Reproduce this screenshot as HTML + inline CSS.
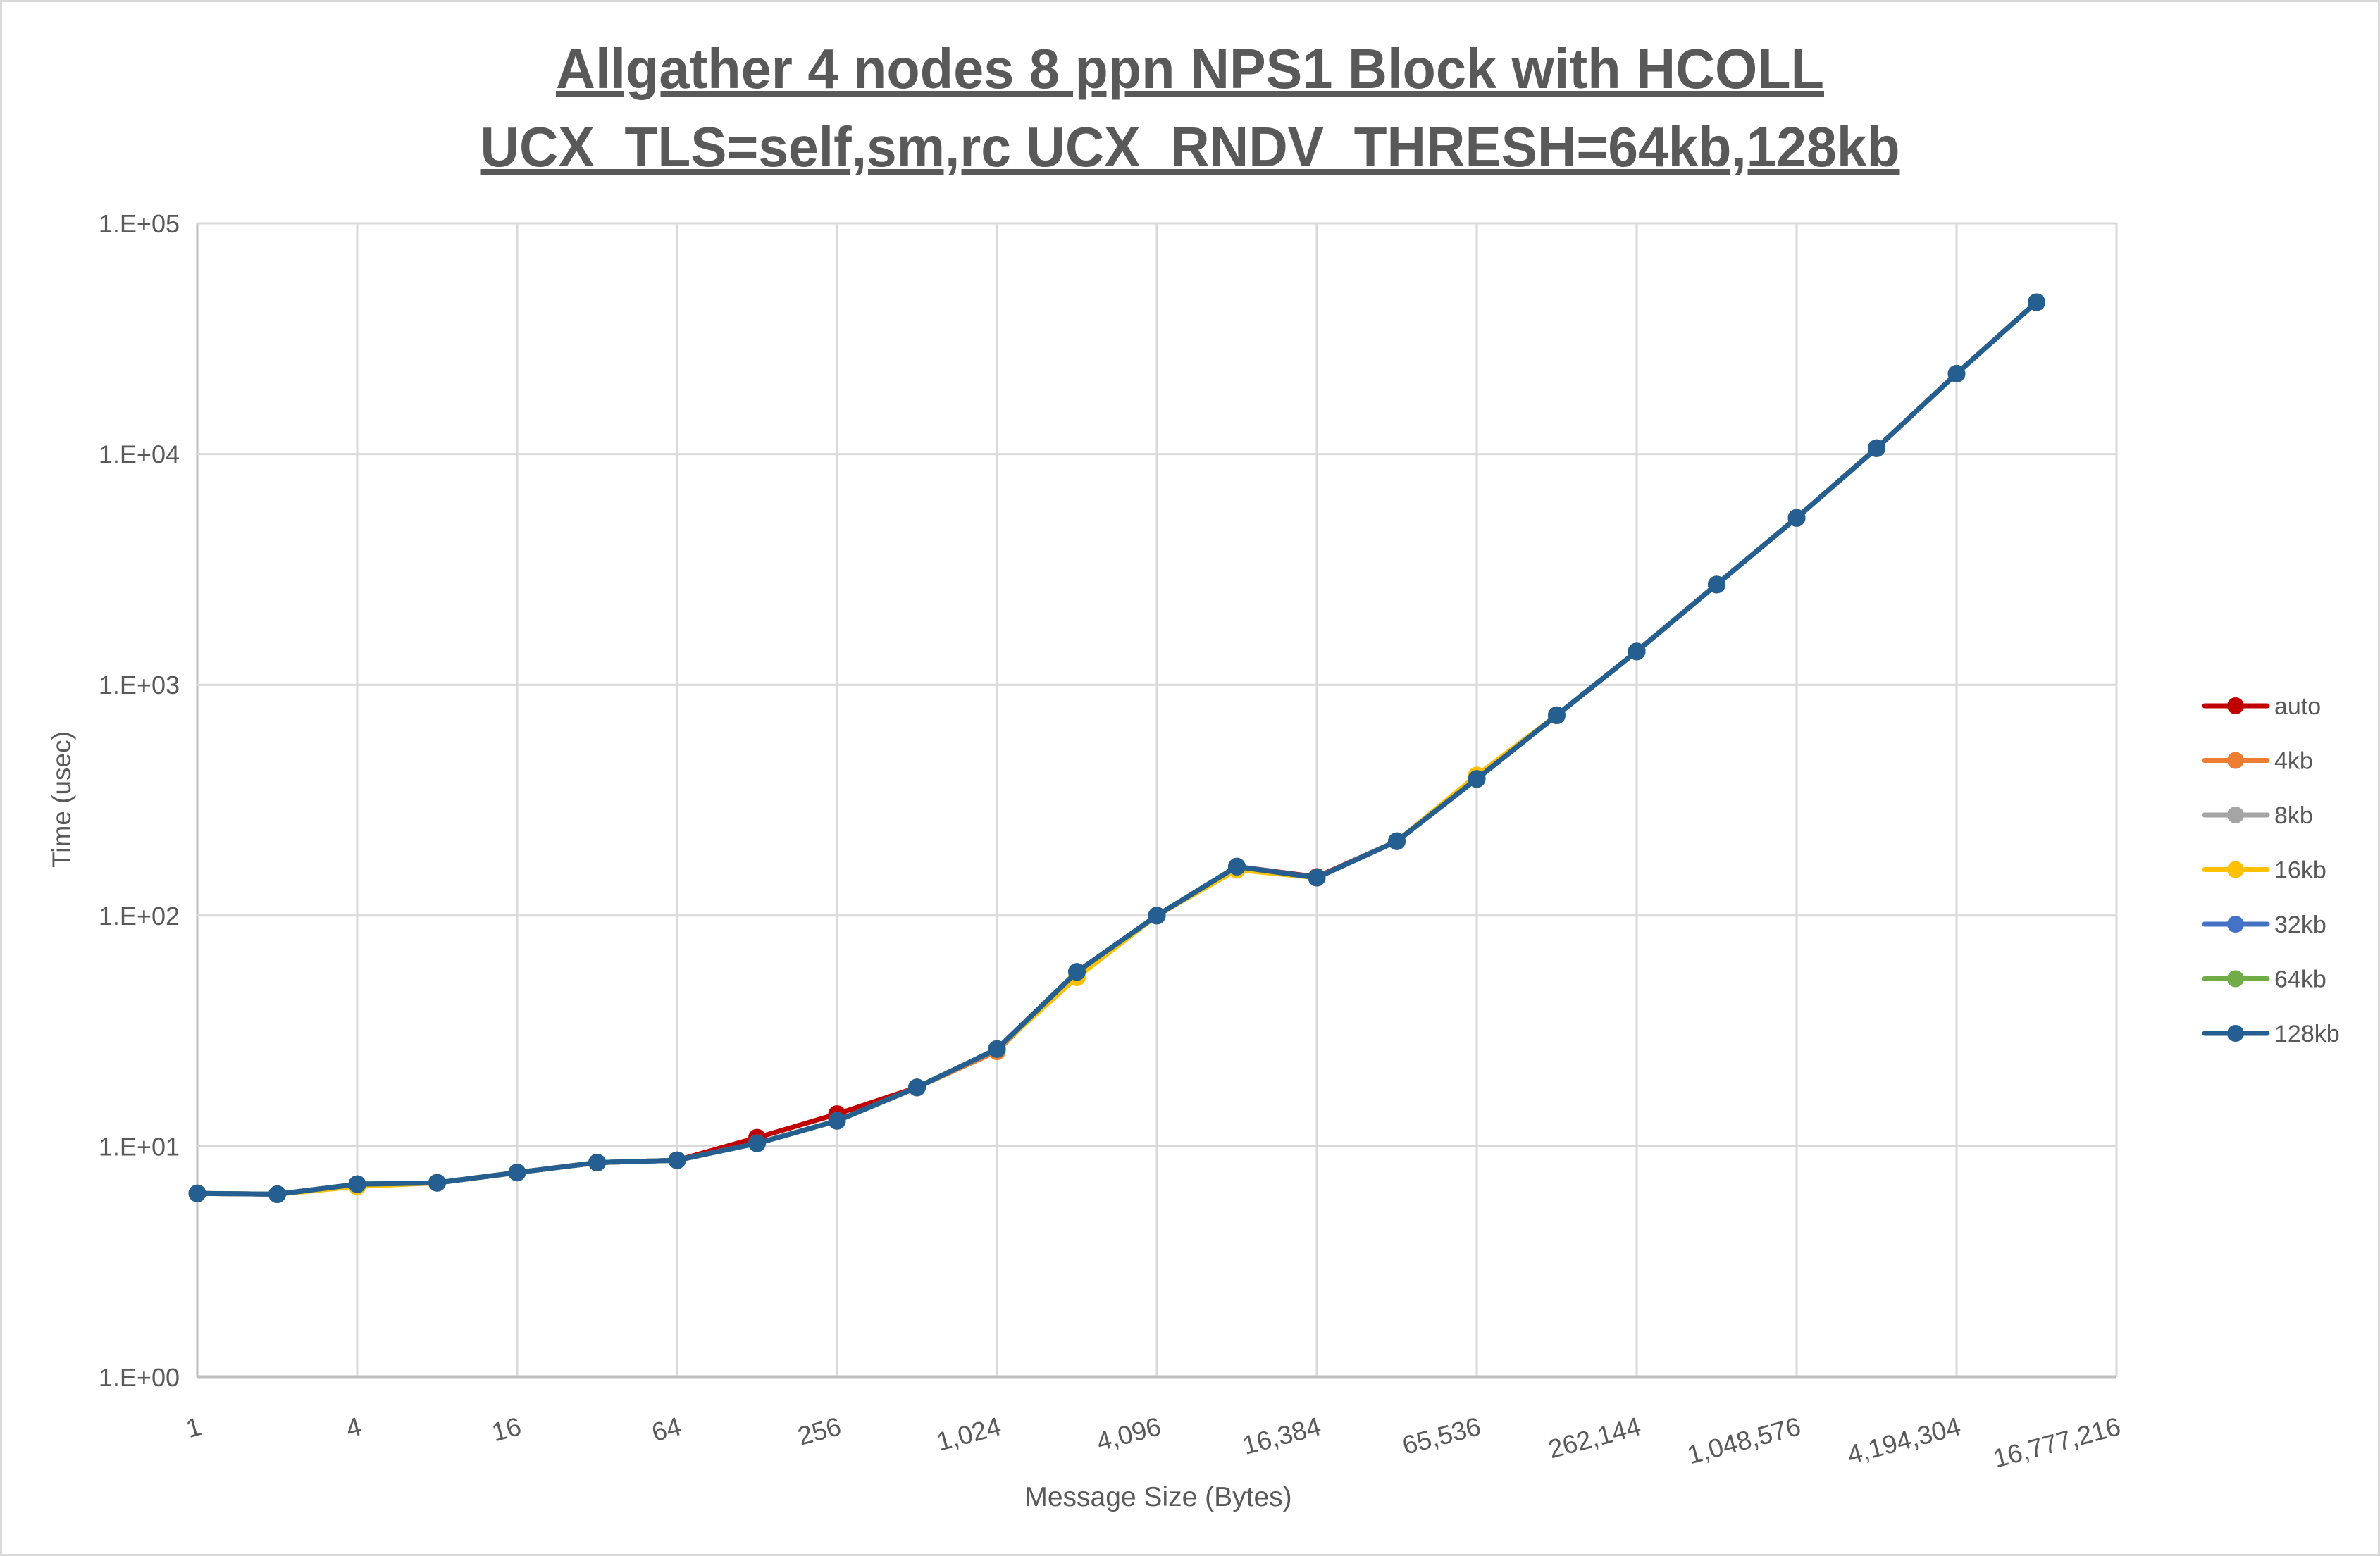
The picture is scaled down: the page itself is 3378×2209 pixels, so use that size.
<!DOCTYPE html>
<html><head><meta charset="utf-8"><style>
html,body{margin:0;padding:0;background:#fff}
svg{display:block}
text{font-family:"Liberation Sans",sans-serif;fill:#595959}
</style></head><body>
<svg id="c" width="3378" height="2209" viewBox="0 0 3378 2209" xmlns="http://www.w3.org/2000/svg">
<rect x="1.5" y="1.5" width="3375" height="2206" fill="#fff" stroke="#d9d9d9" stroke-width="3"/>
<text x="1689" y="125" text-anchor="middle" font-size="80" font-weight="bold" text-decoration="underline" textLength="1800" lengthAdjust="spacingAndGlyphs">Allgather 4 nodes 8 ppn NPS1 Block with HCOLL</text>
<text x="1689" y="236" text-anchor="middle" font-size="80" font-weight="bold" text-decoration="underline" textLength="2015" lengthAdjust="spacingAndGlyphs">UCX_TLS=self,sm,rc UCX_RNDV_THRESH=64kb,128kb</text>
<g id="grid"></g>
<g id="series"></g>
<text transform="translate(100,1135) rotate(-90)" text-anchor="middle" font-size="37">Time (usec)</text>
<text x="1644" y="2138" text-anchor="middle" font-size="39">Message Size (Bytes)</text>
<g id="legend"></g>
</svg>
<script>
var NS="http://www.w3.org/2000/svg";
function el(t,a,p,txt){var e=document.createElementNS(NS,t);for(var k in a)e.setAttribute(k,a[k]);if(txt!==undefined)e.textContent=txt;p.appendChild(e);return e;}
var L=280,R=3004,T=317,B=1955,dec=(B-T)/5,dx=(R-L)/24;
function X(i){return L+i*dx;}function Y(v){return B-Math.log10(v)*dec;}
var g=document.getElementById('grid');
for(var i=0;i<=24;i+=2){el('line',{x1:X(i),y1:T,x2:X(i),y2:B,stroke:i==0?'#bfbfbf':'#d9d9d9','stroke-width':3},g);}
for(var d=0;d<=5;d++){var y=B-d*dec;el('line',{x1:L,y1:y,x2:R,y2:y,stroke:d==0?'#bfbfbf':'#d9d9d9','stroke-width':d==0?5:3},g);
el('text',{x:255,y:y+13,'text-anchor':'end','font-size':36},g,'1.E+0'+d);}
var xl=['1','4','16','64','256','1,024','4,096','16,384','65,536','262,144','1,048,576','4,194,304','16,777,216'];
for(var i=0;i<13;i++){var x=X(2*i)+8,y=2036;el('text',{x:x,y:y,'text-anchor':'end','font-size':37,transform:'rotate(-15 '+x+' '+y+')'},g,xl[i]);}
var base=[6.25,6.2,6.85,6.95,7.7,8.5,8.7,10.3,12.9,18,26.4,57,100,163,146,210,391,738,1395,2720,5290,10600,22300,45500];
var auto=base.slice();auto[7]=10.9;auto[8]=13.8;auto[14]=147;
var y16=base.slice();y16[2]=6.7;y16[16]=405;y16[13]=158;y16[11]=54;
var s4=base.slice();s4[10]=25.8;s4[13]=160;
var ser=[['auto','#c00000',auto],['4kb','#ed7d31',s4],['8kb','#a5a5a5',base],['16kb','#ffc000',y16],['32kb','#4472c4',base],['64kb','#70ad47',base],['128kb','#255e91',base]];
var sg=document.getElementById('series'),lg=document.getElementById('legend');
ser.forEach(function(s,k){var pts=s[2].map(function(v,i){return X(i)+','+Y(v).toFixed(1);}).join(' ');
el('polyline',{points:pts,fill:'none',stroke:s[1],'stroke-width':7,'stroke-linejoin':'round'},sg);
s[2].forEach(function(v,i){el('circle',{cx:X(i),cy:Y(v),r:12.5,fill:s[1]},sg);});
var ly=1002+k*77.5;el('line',{x1:3129,y1:ly,x2:3218,y2:ly,stroke:s[1],'stroke-width':7,'stroke-linecap':'round'},lg);
el('circle',{cx:3173,cy:ly,r:12,fill:s[1]},lg);el('text',{x:3228,y:ly+12,'font-size':34},lg,s[0]);});
</script>
</body></html>
